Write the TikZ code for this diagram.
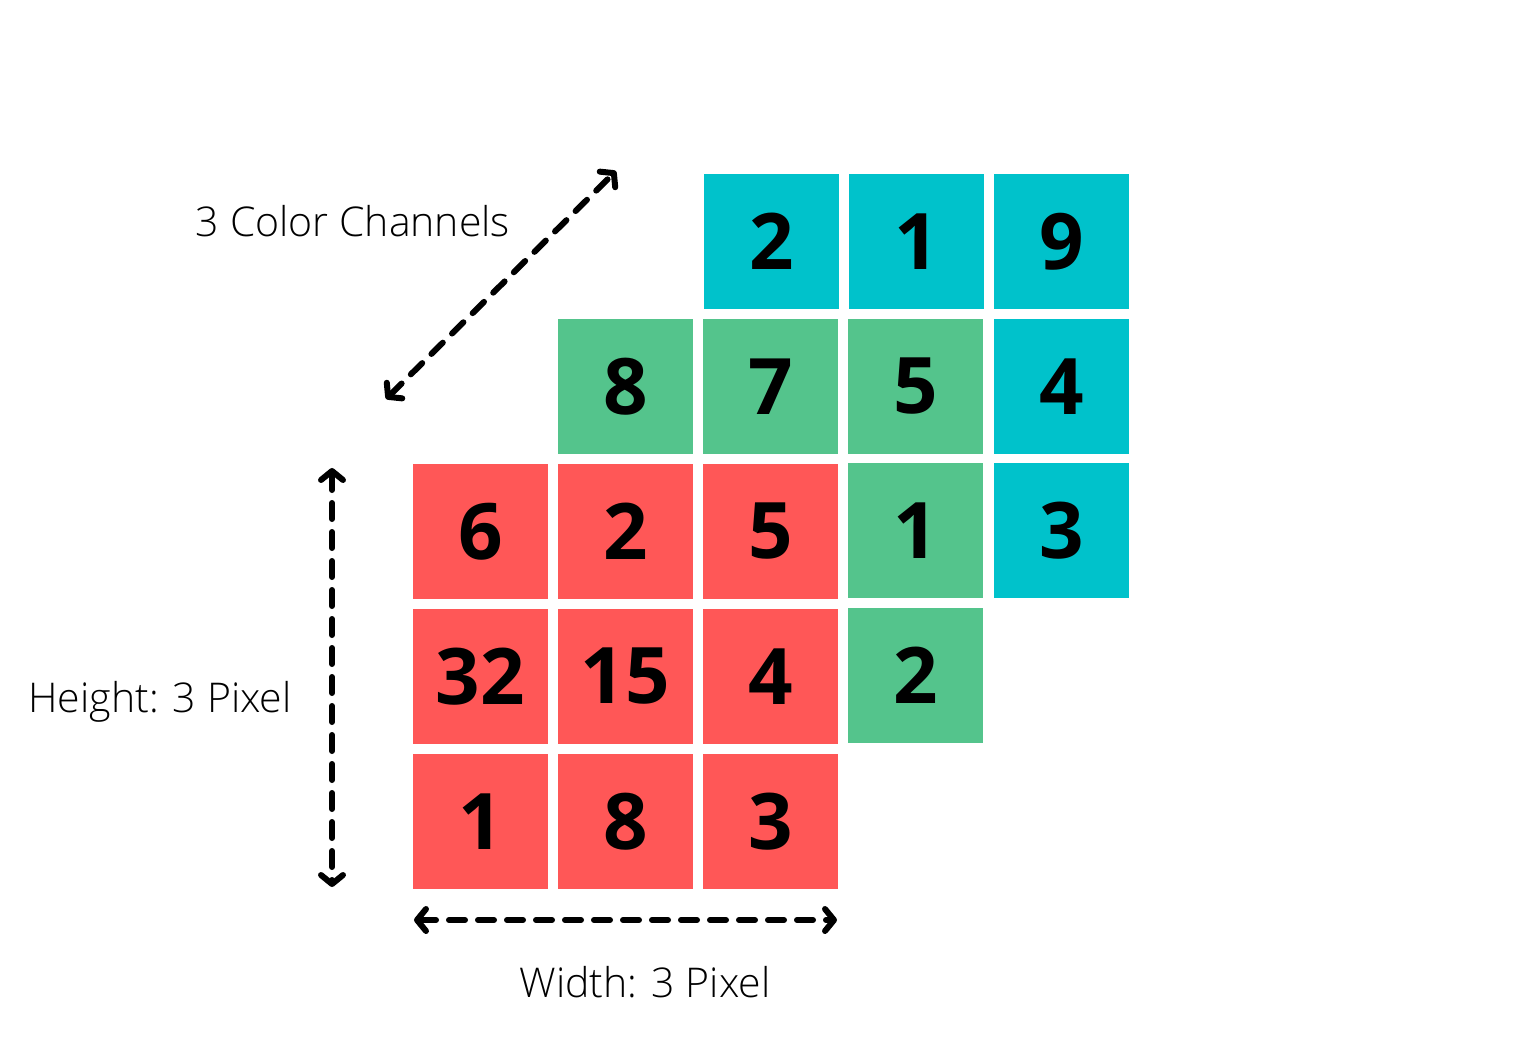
\documentclass[tikz,border=0pt]{standalone}
\usepackage{fontspec}
\setmainfont{Open Sans}
\IfFontExistsTF{Open Sans Light}{\newfontfamily\lightfont{Open Sans Light}}{\newfontfamily\lightfont{Open Sans}}
\usetikzlibrary{arrows.meta}
\definecolor{cyanc}{HTML}{00C2CB}
\definecolor{greenc}{HTML}{54C48C}
\definecolor{redc}{HTML}{FF5757}
\tikzset{
  cell/.style={anchor=north west, minimum size=135pt, inner sep=0pt, outer sep=0pt,
    font=\fontsize{78}{78}\selectfont\bfseries, text=black},
  cy/.style={cell, fill=cyanc},
  gr/.style={cell, fill=greenc},
  rd/.style={cell, fill=redc},
  dimarrow/.style={line width=6pt, line cap=round, dash pattern=on 16pt off 13pt,
    {Straight Barb[length=9pt,width=22pt,round]}-{Straight Barb[length=9pt,width=22pt,round]}},
  lbl/.style={font=\lightfont\fontsize{41}{41}\selectfont, inner sep=0pt, anchor=base}
}
\begin{document}
\begin{tikzpicture}[x=1pt,y=-1pt]
\useasboundingbox[fill=white] (0,0) rectangle (1535,1063);
% cyan layer
\node[cy] (c11) at (704,174) {2};
\node[cy] (c12) at (849,174) {1};
\node[cy] (c13) at (994,174) {9};
\node[cy] (c23) at (994,319) {4};
\node[cy] (c33) at (994,463) {3};
% green layer
\node[gr] (g11) at (558,319) {8};
\node[gr] (g12) at (703,319) {7};
\node[gr] (g13) at (848,319) {5};
\node[gr] (g23) at (848,463) {1};
\node[gr] (g33) at (848,608) {2};
% red layer
\node[rd] (r11) at (413,464) {6};
\node[rd] (r12) at (558,464) {2};
\node[rd] (r13) at (703,464) {5};
\node[rd] (r21) at (413,609) {32};
\node[rd] (r22) at (558,609) {15};
\node[rd] (r23) at (703,609) {4};
\node[rd] (r31) at (413,754) {1};
\node[rd] (r32) at (558,754) {8};
\node[rd] (r33) at (703,754) {3};
% arrows
\coordinate (d1) at (386,399);
\coordinate (d2) at (616,171);
\coordinate (v1) at (332,468);
\coordinate (v2) at (332,887);
\coordinate (h1) at (414,920);
\coordinate (h2) at (837,920);
\draw[dimarrow] (d1) -- (d2);
\draw[dimarrow] (v1) -- (v2);
\draw[dimarrow] (h1) -- (h2);
% labels
\node[lbl] (lc) at (353,236) {3 Color Channels};
\node[lbl] (lh) at (160,712) {Height: 3 Pixel};
\node[lbl] (lw) at (645,997) {Width: 3 Pixel};
\end{tikzpicture}
\end{document}
